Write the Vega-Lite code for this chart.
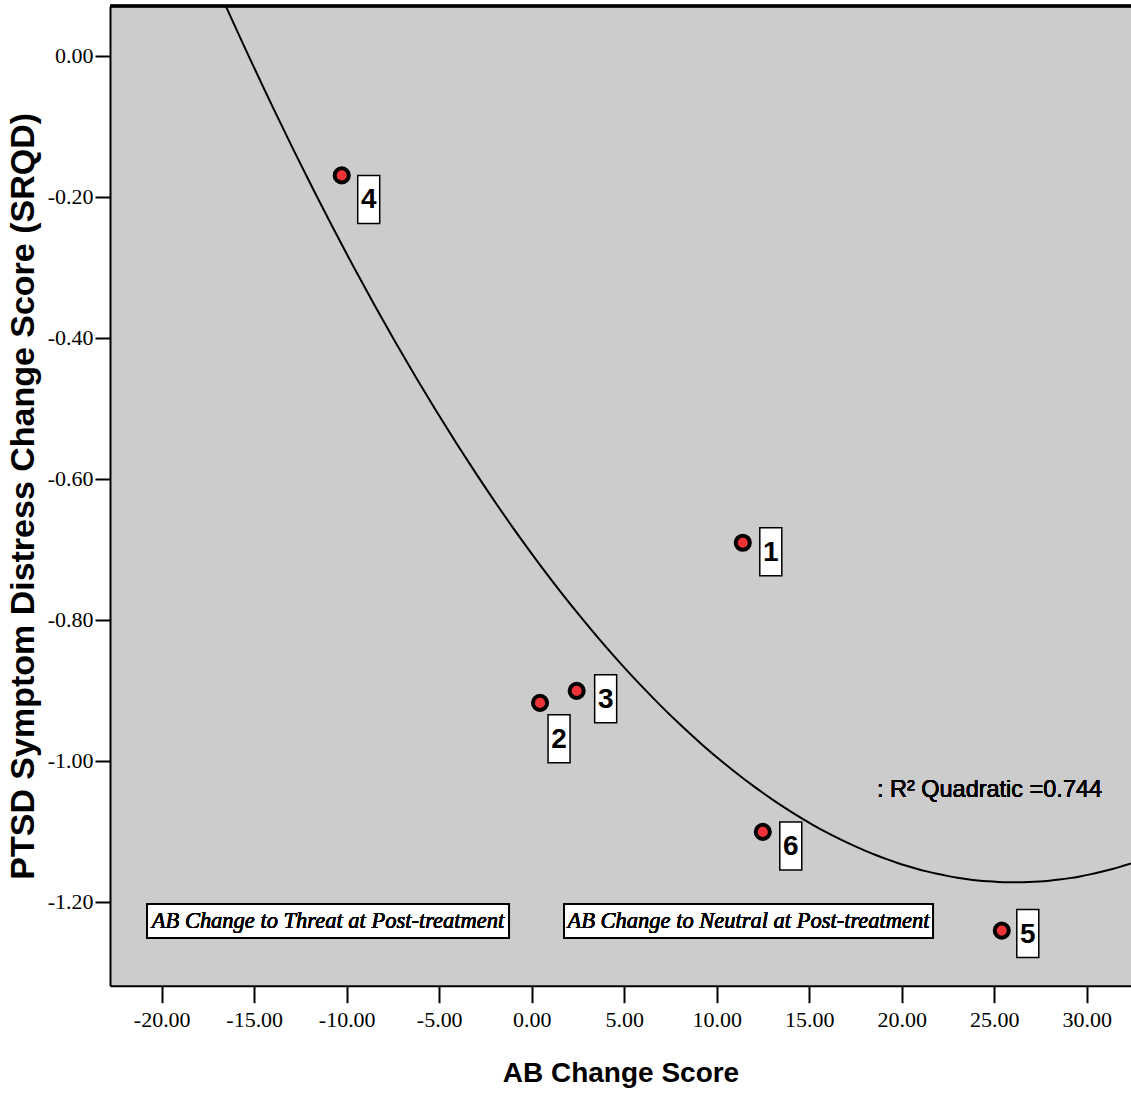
{
  "$schema": "https://vega.github.io/schema/vega-lite/v6.json",
  "autosize": {"type": "none"},
  "padding": {"left": 110, "top": 6, "right": 0, "bottom": 113},
  "width": 1021,
  "height": 979.7,
  "background": "white",
  "config": {
    "view": {"fill": "#cccccc", "stroke": null},
    "axis": {
      "grid": false,
      "domainColor": "black",
      "domainWidth": 2,
      "tickColor": "black",
      "tickWidth": 2,
      "labelFont": "Liberation Serif",
      "labelFontSize": 22,
      "labelColor": "black",
      "titleFont": "Liberation Sans",
      "titleFontWeight": "bold",
      "titleFontSize": 28,
      "titleColor": "black"
    }
  },
  "data": {
    "values": [
      {"id": "1", "ab": 11.41, "ptsd": -0.691},
      {"id": "2", "ab": 0.45, "ptsd": -0.918},
      {"id": "3", "ab": 2.43, "ptsd": -0.901},
      {"id": "4", "ab": -10.27, "ptsd": -0.17},
      {"id": "5", "ab": 25.41, "ptsd": -1.241},
      {"id": "6", "ab": 12.49, "ptsd": -1.101}
    ]
  },
  "encoding": {
    "x": {
      "field": "ab", "type": "quantitative",
      "scale": {"domain": [-22.795, 32.394], "nice": false, "zero": false},
      "axis": {
        "title": "AB Change Score",
        "values": [-20, -15, -10, -5, 0, 5, 10, 15, 20, 25, 30],
        "labelExpr": "replace(format(datum.value, '.2f'), '\u2212', '-')",
        "tickSize": 17,
        "labelPadding": 7,
        "titlePadding": 29
      }
    },
    "y": {
      "field": "ptsd", "type": "quantitative",
      "scale": {"domain": [-1.3191, 0.0702], "nice": false, "zero": false},
      "axis": {
        "title": "PTSD Symptom Distress Change Score (SRQD)",
        "titleFontSize": 34,
        "values": [-1.2, -1.0, -0.8, -0.6, -0.4, -0.2, 0],
        "labelExpr": "replace(format(datum.value, '.2f'), '\u2212', '-')",
        "tickSize": 15,
        "labelPadding": 2,
        "titlePadding": 7
      }
    }
  },
  "layer": [
    {
      "mark": {"type": "rule", "color": "black", "strokeWidth": 2.5},
      "encoding": {"x": null, "y": {"datum": 0.0702}}
    },
    {
      "transform": [
        {"regression": "ptsd", "on": "ab", "method": "poly", "order": 2, "extent": [-22.795, 32.394]}
      ],
      "mark": {"type": "line", "color": "black", "strokeWidth": 2, "clip": true, "interpolate": "monotone"}
    },
    {
      "mark": {"type": "rect", "fill": "white", "stroke": "black", "strokeWidth": 2},
      "encoding": {
        "x": {"datum": -20.795}, "x2": {"datum": -1.227},
        "y": {"datum": -1.2032}, "y2": {"datum": -1.2514}
      }
    },
    {
      "mark": {"type": "rect", "fill": "white", "stroke": "black", "strokeWidth": 2},
      "encoding": {
        "x": {"datum": 1.746}, "x2": {"datum": 21.692},
        "y": {"datum": -1.2032}, "y2": {"datum": -1.2514}
      }
    },
    {
      "mark": {"type": "text", "font": "Liberation Serif", "fontStyle": "italic", "fontSize": 22.5, "align": "center", "baseline": "middle", "color": "black", "text": "AB Change to Threat at Post-treatment"},
      "encoding": {"x": {"datum": -11.011}, "y": {"datum": -1.2273}}
    },
    {
      "mark": {"type": "text", "font": "Liberation Serif", "fontStyle": "italic", "fontSize": 22.5, "align": "center", "baseline": "middle", "color": "black", "text": "AB Change to Neutral at Post-treatment"},
      "encoding": {"x": {"datum": 11.719}, "y": {"datum": -1.2273}}
    },
    {
      "mark": {"type": "text", "font": "Liberation Sans", "fontSize": 23.5, "align": "left", "baseline": "alphabetic", "color": "black", "text": ": R\u00b2 Quadratic =0.744"},
      "encoding": {"x": {"datum": 18.659}, "y": {"datum": -1.0515}}
    },
    {
      "mark": {"type": "point", "filled": true, "fill": "#ee3338", "stroke": "black", "strokeWidth": 4, "size": 200, "opacity": 1}
    },
    {"transform": [{"filter": "datum.id == '1'"}], "mark": {"type": "point", "shape": "M-0.4583,-1H0.4583V1H-0.4583Z", "size": 2304, "filled": true, "fill": "white", "stroke": "black", "strokeWidth": 1.5, "opacity": 1, "xOffset": 28, "yOffset": 9}},
    {"transform": [{"filter": "datum.id == '1'"}], "mark": {"type": "text", "font": "Liberation Sans", "fontWeight": "bold", "fontSize": 28, "align": "center", "baseline": "middle", "color": "black", "dx": 28, "dy": 10}, "encoding": {"text": {"field": "id"}}},
    {"transform": [{"filter": "datum.id == '2'"}], "mark": {"type": "point", "shape": "M-0.4583,-1H0.4583V1H-0.4583Z", "size": 2304, "filled": true, "fill": "white", "stroke": "black", "strokeWidth": 1.5, "opacity": 1, "xOffset": 19, "yOffset": 36}},
    {"transform": [{"filter": "datum.id == '2'"}], "mark": {"type": "text", "font": "Liberation Sans", "fontWeight": "bold", "fontSize": 28, "align": "center", "baseline": "middle", "color": "black", "dx": 19, "dy": 37}, "encoding": {"text": {"field": "id"}}},
    {"transform": [{"filter": "datum.id == '3'"}], "mark": {"type": "point", "shape": "M-0.4583,-1H0.4583V1H-0.4583Z", "size": 2304, "filled": true, "fill": "white", "stroke": "black", "strokeWidth": 1.5, "opacity": 1, "xOffset": 29, "yOffset": 8}},
    {"transform": [{"filter": "datum.id == '3'"}], "mark": {"type": "text", "font": "Liberation Sans", "fontWeight": "bold", "fontSize": 28, "align": "center", "baseline": "middle", "color": "black", "dx": 29, "dy": 9}, "encoding": {"text": {"field": "id"}}},
    {"transform": [{"filter": "datum.id == '4'"}], "mark": {"type": "point", "shape": "M-0.4583,-1H0.4583V1H-0.4583Z", "size": 2304, "filled": true, "fill": "white", "stroke": "black", "strokeWidth": 1.5, "opacity": 1, "xOffset": 27, "yOffset": 24}},
    {"transform": [{"filter": "datum.id == '4'"}], "mark": {"type": "text", "font": "Liberation Sans", "fontWeight": "bold", "fontSize": 28, "align": "center", "baseline": "middle", "color": "black", "dx": 27, "dy": 25}, "encoding": {"text": {"field": "id"}}},
    {"transform": [{"filter": "datum.id == '5'"}], "mark": {"type": "point", "shape": "M-0.4583,-1H0.4583V1H-0.4583Z", "size": 2304, "filled": true, "fill": "white", "stroke": "black", "strokeWidth": 1.5, "opacity": 1, "xOffset": 26, "yOffset": 3}},
    {"transform": [{"filter": "datum.id == '5'"}], "mark": {"type": "text", "font": "Liberation Sans", "fontWeight": "bold", "fontSize": 28, "align": "center", "baseline": "middle", "color": "black", "dx": 26, "dy": 4}, "encoding": {"text": {"field": "id"}}},
    {"transform": [{"filter": "datum.id == '6'"}], "mark": {"type": "point", "shape": "M-0.4583,-1H0.4583V1H-0.4583Z", "size": 2304, "filled": true, "fill": "white", "stroke": "black", "strokeWidth": 1.5, "opacity": 1, "xOffset": 28, "yOffset": 14}},
    {"transform": [{"filter": "datum.id == '6'"}], "mark": {"type": "text", "font": "Liberation Sans", "fontWeight": "bold", "fontSize": 28, "align": "center", "baseline": "middle", "color": "black", "dx": 28, "dy": 15}, "encoding": {"text": {"field": "id"}}}
  ]
}
